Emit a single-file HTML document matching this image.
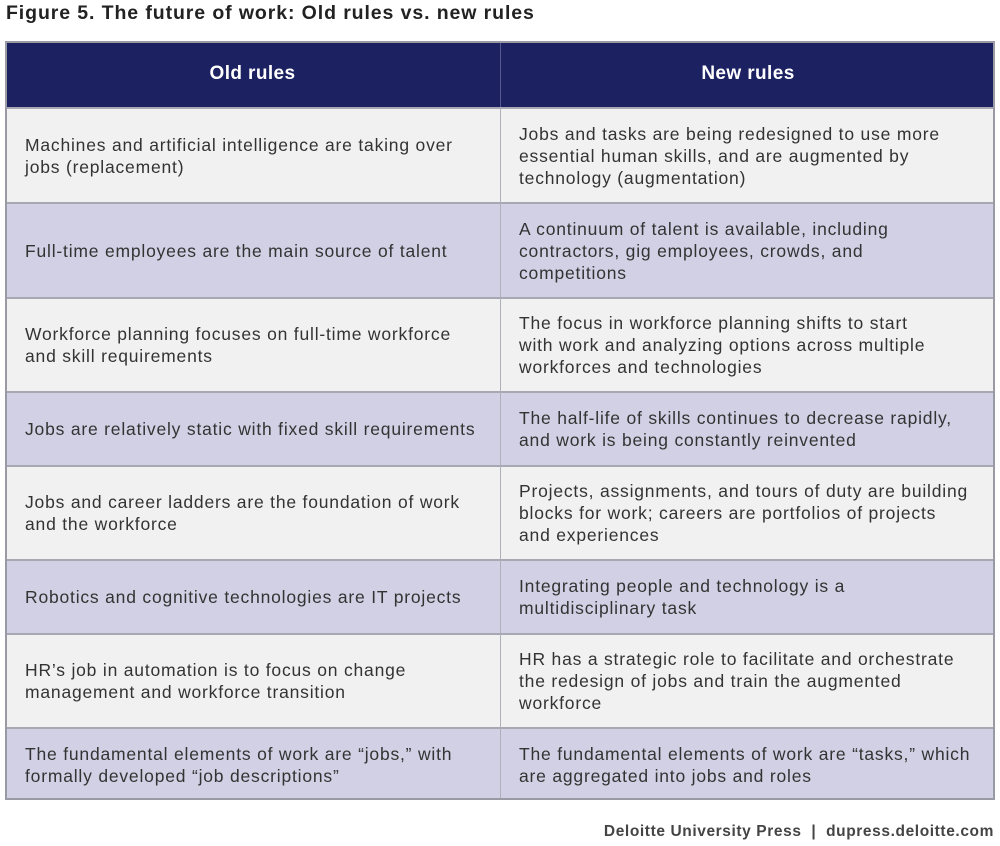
<!DOCTYPE html>
<html><head><meta charset="utf-8"><style>
body{margin:0;width:1000px;height:846px;background:#fff;font-family:"Liberation Sans",sans-serif;position:relative;overflow:hidden}
#title{position:absolute;left:6px;top:2px;font-size:19.5px;font-weight:bold;color:#222;letter-spacing:0.9px}
.hdr{position:absolute;top:41px;height:66px;background:#1b2161;color:#fff;font-weight:bold;font-size:19px;letter-spacing:0.4px;display:flex;align-items:center;justify-content:center;box-sizing:border-box}
.cell{position:absolute;box-sizing:border-box;display:flex;align-items:center;font-size:17.5px;letter-spacing:0.8px;line-height:22px;color:#333;border-top:2px solid #a8a8b4;white-space:pre;overflow:hidden}
.l{left:5px;width:496px;padding-left:20px;border-right:1px solid #b0b0b8}
.r{left:501px;width:494px;padding-left:18px}
.a{background:#f1f1f1}.b{background:#d2d0e4}
#frame{position:absolute;left:5px;top:41px;width:990px;height:759px;box-sizing:border-box;border:2px solid #9a9aa4;pointer-events:none}
#foot{position:absolute;right:6px;top:823px;font-size:15.5px;font-weight:bold;color:#444;letter-spacing:0.6px}
</style></head><body>
<div id="title">Figure 5. The future of work: Old rules vs. new rules</div>
<div class="hdr" style="left:5px;width:496px;border-right:1px solid #555a8a">Old rules</div>
<div class="hdr" style="left:501px;width:494px">New rules</div>
<div id="rows"></div>
<div id="frame"></div>
<div id="foot">Deloitte University Press &nbsp;| &nbsp;dupress.deloitte.com</div>
<script>
const rowTops=[107,202,297,391,465,559,633,727,800];
const oldRules=["Machines and artificial intelligence are taking over\njobs (replacement)","Full-time employees are the main source of talent","Workforce planning focuses on full-time workforce\nand skill requirements","Jobs are relatively static with fixed skill requirements","Jobs and career ladders are the foundation of work\nand the workforce","Robotics and cognitive technologies are IT projects","HR’s job in automation is to focus on change\nmanagement and workforce transition","The fundamental elements of work are “jobs,” with\nformally developed “job descriptions”"];
const newRules=["Jobs and tasks are being redesigned to use more\nessential human skills, and are augmented by\ntechnology (augmentation)","A continuum of talent is available, including\ncontractors, gig employees, crowds, and\ncompetitions","The focus in workforce planning shifts to start\nwith work and analyzing options across multiple\nworkforces and technologies","The half-life of skills continues to decrease rapidly,\nand work is being constantly reinvented","Projects, assignments, and tours of duty are building\nblocks for work; careers are portfolios of projects\nand experiences","Integrating people and technology is a\nmultidisciplinary task","HR has a strategic role to facilitate and orchestrate\nthe redesign of jobs and train the augmented\nworkforce","The fundamental elements of work are “tasks,” which\nare aggregated into jobs and roles"];
const c=document.getElementById('rows');
oldRules.forEach((t,i)=>{
 [[t,'l','old-rule-cell'],[newRules[i],'r','new-rule-cell']].forEach(([txt,cls,nm])=>{
  const d=document.createElement('div');
  d.className='cell '+cls+' '+(i%2?'b':'a');
  d.style.top=rowTops[i]+'px';d.style.height=(rowTops[i+1]-rowTops[i])+'px';
  d.textContent=txt;
  
  
  c.appendChild(d);
 });
});
</script>
</body></html>
